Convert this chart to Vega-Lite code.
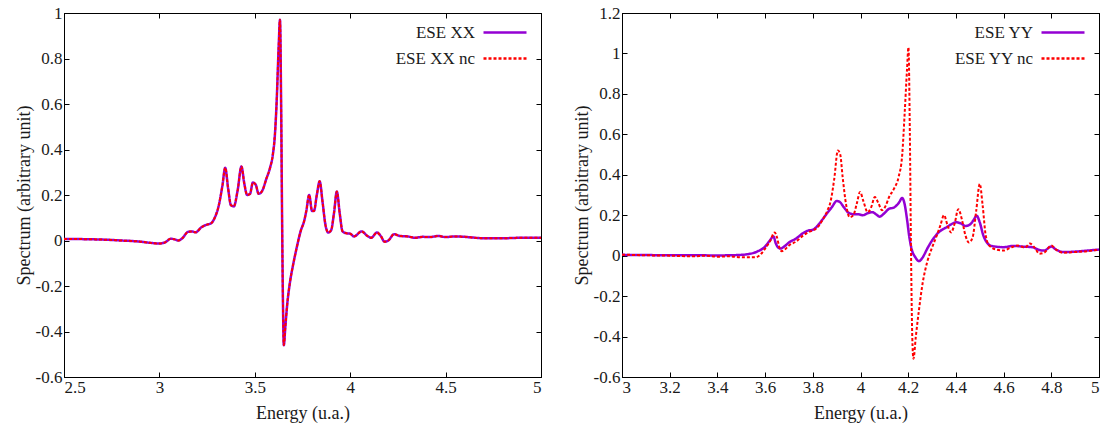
{
  "$schema": "https://vega.github.io/schema/vega-lite/v6.json",
  "padding": {"left": 14, "top": 3, "right": 0, "bottom": 0},
  "spacing": 81,
  "bounds": "flush",
  "resolve": {"scale": {"color": "independent", "strokeDash": "independent"}, "legend": {"color": "independent", "strokeDash": "independent"}},
  "datasets": {
    "xx": [
      {"E": 2.5, "ESE XX": 0.007, "ESE XX nc": 0.007},
      {"E": 2.6, "ESE XX": 0.006, "ESE XX nc": 0.006},
      {"E": 2.7, "ESE XX": 0.004, "ESE XX nc": 0.004},
      {"E": 2.8, "ESE XX": 0.0, "ESE XX nc": 0.0},
      {"E": 2.9, "ESE XX": -0.005, "ESE XX nc": -0.005},
      {"E": 2.95, "ESE XX": -0.01, "ESE XX nc": -0.01},
      {"E": 3.0, "ESE XX": -0.013, "ESE XX nc": -0.013},
      {"E": 3.03, "ESE XX": -0.008, "ESE XX nc": -0.008},
      {"E": 3.06, "ESE XX": 0.008, "ESE XX nc": 0.008},
      {"E": 3.08, "ESE XX": 0.005, "ESE XX nc": 0.005},
      {"E": 3.1, "ESE XX": 0.0, "ESE XX nc": 0.0},
      {"E": 3.12, "ESE XX": 0.01, "ESE XX nc": 0.01},
      {"E": 3.15, "ESE XX": 0.038, "ESE XX nc": 0.038},
      {"E": 3.17, "ESE XX": 0.04, "ESE XX nc": 0.04},
      {"E": 3.19, "ESE XX": 0.036, "ESE XX nc": 0.036},
      {"E": 3.22, "ESE XX": 0.058, "ESE XX nc": 0.058},
      {"E": 3.25, "ESE XX": 0.07, "ESE XX nc": 0.07},
      {"E": 3.27, "ESE XX": 0.075, "ESE XX nc": 0.075},
      {"E": 3.29, "ESE XX": 0.1, "ESE XX nc": 0.1},
      {"E": 3.31, "ESE XX": 0.15, "ESE XX nc": 0.15},
      {"E": 3.33, "ESE XX": 0.24, "ESE XX nc": 0.24},
      {"E": 3.345, "ESE XX": 0.32, "ESE XX nc": 0.32},
      {"E": 3.36, "ESE XX": 0.23, "ESE XX nc": 0.23},
      {"E": 3.375, "ESE XX": 0.155, "ESE XX nc": 0.155},
      {"E": 3.39, "ESE XX": 0.15, "ESE XX nc": 0.15},
      {"E": 3.41, "ESE XX": 0.22, "ESE XX nc": 0.22},
      {"E": 3.43, "ESE XX": 0.325, "ESE XX nc": 0.325},
      {"E": 3.445, "ESE XX": 0.25, "ESE XX nc": 0.25},
      {"E": 3.46, "ESE XX": 0.2, "ESE XX nc": 0.2},
      {"E": 3.475, "ESE XX": 0.205, "ESE XX nc": 0.205},
      {"E": 3.49, "ESE XX": 0.255, "ESE XX nc": 0.255},
      {"E": 3.505, "ESE XX": 0.245, "ESE XX nc": 0.245},
      {"E": 3.52, "ESE XX": 0.205, "ESE XX nc": 0.205},
      {"E": 3.54, "ESE XX": 0.22, "ESE XX nc": 0.22},
      {"E": 3.56, "ESE XX": 0.27, "ESE XX nc": 0.27},
      {"E": 3.58, "ESE XX": 0.32, "ESE XX nc": 0.32},
      {"E": 3.595, "ESE XX": 0.38, "ESE XX nc": 0.38},
      {"E": 3.605, "ESE XX": 0.46, "ESE XX nc": 0.46},
      {"E": 3.615, "ESE XX": 0.62, "ESE XX nc": 0.62},
      {"E": 3.625, "ESE XX": 0.85, "ESE XX nc": 0.85},
      {"E": 3.632, "ESE XX": 0.97, "ESE XX nc": 0.97},
      {"E": 3.638, "ESE XX": 0.6, "ESE XX nc": 0.6},
      {"E": 3.643, "ESE XX": 0.1, "ESE XX nc": 0.1},
      {"E": 3.648, "ESE XX": -0.3, "ESE XX nc": -0.3},
      {"E": 3.652, "ESE XX": -0.46, "ESE XX nc": -0.46},
      {"E": 3.66, "ESE XX": -0.38, "ESE XX nc": -0.38},
      {"E": 3.67, "ESE XX": -0.28, "ESE XX nc": -0.28},
      {"E": 3.685, "ESE XX": -0.18, "ESE XX nc": -0.18},
      {"E": 3.7, "ESE XX": -0.11, "ESE XX nc": -0.11},
      {"E": 3.72, "ESE XX": -0.03, "ESE XX nc": -0.03},
      {"E": 3.74, "ESE XX": 0.04, "ESE XX nc": 0.04},
      {"E": 3.76, "ESE XX": 0.09, "ESE XX nc": 0.09},
      {"E": 3.77, "ESE XX": 0.13, "ESE XX nc": 0.13},
      {"E": 3.785, "ESE XX": 0.2, "ESE XX nc": 0.2},
      {"E": 3.8, "ESE XX": 0.13, "ESE XX nc": 0.13},
      {"E": 3.81, "ESE XX": 0.13, "ESE XX nc": 0.13},
      {"E": 3.825, "ESE XX": 0.2, "ESE XX nc": 0.2},
      {"E": 3.84, "ESE XX": 0.26, "ESE XX nc": 0.26},
      {"E": 3.855, "ESE XX": 0.17, "ESE XX nc": 0.17},
      {"E": 3.87, "ESE XX": 0.07, "ESE XX nc": 0.07},
      {"E": 3.885, "ESE XX": 0.035, "ESE XX nc": 0.035},
      {"E": 3.9, "ESE XX": 0.045, "ESE XX nc": 0.045},
      {"E": 3.915, "ESE XX": 0.12, "ESE XX nc": 0.12},
      {"E": 3.93, "ESE XX": 0.215, "ESE XX nc": 0.215},
      {"E": 3.945, "ESE XX": 0.12, "ESE XX nc": 0.12},
      {"E": 3.96, "ESE XX": 0.04, "ESE XX nc": 0.04},
      {"E": 3.98, "ESE XX": 0.032, "ESE XX nc": 0.032},
      {"E": 4.0, "ESE XX": 0.03, "ESE XX nc": 0.03},
      {"E": 4.02, "ESE XX": 0.018, "ESE XX nc": 0.018},
      {"E": 4.06, "ESE XX": 0.04, "ESE XX nc": 0.04},
      {"E": 4.09, "ESE XX": 0.02, "ESE XX nc": 0.02},
      {"E": 4.11, "ESE XX": 0.012, "ESE XX nc": 0.012},
      {"E": 4.14, "ESE XX": 0.035, "ESE XX nc": 0.035},
      {"E": 4.16, "ESE XX": 0.02, "ESE XX nc": 0.02},
      {"E": 4.18, "ESE XX": -0.005, "ESE XX nc": -0.005},
      {"E": 4.2, "ESE XX": 0.0, "ESE XX nc": 0.0},
      {"E": 4.23, "ESE XX": 0.028, "ESE XX nc": 0.028},
      {"E": 4.26, "ESE XX": 0.02, "ESE XX nc": 0.02},
      {"E": 4.3, "ESE XX": 0.018, "ESE XX nc": 0.018},
      {"E": 4.34, "ESE XX": 0.012, "ESE XX nc": 0.012},
      {"E": 4.38, "ESE XX": 0.016, "ESE XX nc": 0.016},
      {"E": 4.42, "ESE XX": 0.015, "ESE XX nc": 0.015},
      {"E": 4.46, "ESE XX": 0.02, "ESE XX nc": 0.02},
      {"E": 4.5, "ESE XX": 0.015, "ESE XX nc": 0.015},
      {"E": 4.55, "ESE XX": 0.018, "ESE XX nc": 0.018},
      {"E": 4.6, "ESE XX": 0.016, "ESE XX nc": 0.016},
      {"E": 4.7, "ESE XX": 0.01, "ESE XX nc": 0.01},
      {"E": 4.8, "ESE XX": 0.01, "ESE XX nc": 0.01},
      {"E": 4.9, "ESE XX": 0.012, "ESE XX nc": 0.012},
      {"E": 5.0, "ESE XX": 0.012, "ESE XX nc": 0.012}
    ],
    "yy": [
      {"E": 3.0, "series": "ESE YY", "S": 0.004},
      {"E": 3.1, "series": "ESE YY", "S": 0.003},
      {"E": 3.2, "series": "ESE YY", "S": 0.002},
      {"E": 3.3, "series": "ESE YY", "S": 0.002},
      {"E": 3.4, "series": "ESE YY", "S": 0.001},
      {"E": 3.45, "series": "ESE YY", "S": 0.002},
      {"E": 3.5, "series": "ESE YY", "S": 0.004},
      {"E": 3.54, "series": "ESE YY", "S": 0.01},
      {"E": 3.57, "series": "ESE YY", "S": 0.022},
      {"E": 3.6, "series": "ESE YY", "S": 0.045},
      {"E": 3.62, "series": "ESE YY", "S": 0.075},
      {"E": 3.635, "series": "ESE YY", "S": 0.095},
      {"E": 3.645, "series": "ESE YY", "S": 0.06},
      {"E": 3.655, "series": "ESE YY", "S": 0.04},
      {"E": 3.665, "series": "ESE YY", "S": 0.035},
      {"E": 3.68, "series": "ESE YY", "S": 0.045},
      {"E": 3.7, "series": "ESE YY", "S": 0.065},
      {"E": 3.73, "series": "ESE YY", "S": 0.085},
      {"E": 3.76, "series": "ESE YY", "S": 0.112},
      {"E": 3.78, "series": "ESE YY", "S": 0.124},
      {"E": 3.8, "series": "ESE YY", "S": 0.128},
      {"E": 3.82, "series": "ESE YY", "S": 0.148},
      {"E": 3.84, "series": "ESE YY", "S": 0.178},
      {"E": 3.86, "series": "ESE YY", "S": 0.21},
      {"E": 3.88, "series": "ESE YY", "S": 0.24},
      {"E": 3.9, "series": "ESE YY", "S": 0.27},
      {"E": 3.91, "series": "ESE YY", "S": 0.268},
      {"E": 3.93, "series": "ESE YY", "S": 0.24},
      {"E": 3.95, "series": "ESE YY", "S": 0.212},
      {"E": 3.97, "series": "ESE YY", "S": 0.205},
      {"E": 3.99, "series": "ESE YY", "S": 0.205},
      {"E": 4.01, "series": "ESE YY", "S": 0.2},
      {"E": 4.03, "series": "ESE YY", "S": 0.21},
      {"E": 4.05, "series": "ESE YY", "S": 0.215},
      {"E": 4.065, "series": "ESE YY", "S": 0.205},
      {"E": 4.08, "series": "ESE YY", "S": 0.193},
      {"E": 4.1, "series": "ESE YY", "S": 0.21},
      {"E": 4.12, "series": "ESE YY", "S": 0.232},
      {"E": 4.14, "series": "ESE YY", "S": 0.238},
      {"E": 4.16, "series": "ESE YY", "S": 0.26},
      {"E": 4.175, "series": "ESE YY", "S": 0.285},
      {"E": 4.185, "series": "ESE YY", "S": 0.255},
      {"E": 4.195, "series": "ESE YY", "S": 0.18},
      {"E": 4.205, "series": "ESE YY", "S": 0.09},
      {"E": 4.215, "series": "ESE YY", "S": 0.03},
      {"E": 4.23, "series": "ESE YY", "S": -0.008},
      {"E": 4.245, "series": "ESE YY", "S": -0.027},
      {"E": 4.26, "series": "ESE YY", "S": -0.01},
      {"E": 4.28, "series": "ESE YY", "S": 0.035},
      {"E": 4.3, "series": "ESE YY", "S": 0.075},
      {"E": 4.33, "series": "ESE YY", "S": 0.118},
      {"E": 4.36, "series": "ESE YY", "S": 0.14},
      {"E": 4.38, "series": "ESE YY", "S": 0.155},
      {"E": 4.4, "series": "ESE YY", "S": 0.165},
      {"E": 4.42, "series": "ESE YY", "S": 0.16},
      {"E": 4.44, "series": "ESE YY", "S": 0.147},
      {"E": 4.46, "series": "ESE YY", "S": 0.155},
      {"E": 4.475, "series": "ESE YY", "S": 0.178},
      {"E": 4.487, "series": "ESE YY", "S": 0.198},
      {"E": 4.5, "series": "ESE YY", "S": 0.165},
      {"E": 4.515, "series": "ESE YY", "S": 0.1},
      {"E": 4.53, "series": "ESE YY", "S": 0.065},
      {"E": 4.55, "series": "ESE YY", "S": 0.048},
      {"E": 4.6, "series": "ESE YY", "S": 0.042},
      {"E": 4.64, "series": "ESE YY", "S": 0.048},
      {"E": 4.68, "series": "ESE YY", "S": 0.045},
      {"E": 4.72, "series": "ESE YY", "S": 0.042},
      {"E": 4.75, "series": "ESE YY", "S": 0.028},
      {"E": 4.77, "series": "ESE YY", "S": 0.025},
      {"E": 4.8, "series": "ESE YY", "S": 0.045},
      {"E": 4.82, "series": "ESE YY", "S": 0.03},
      {"E": 4.85, "series": "ESE YY", "S": 0.018},
      {"E": 4.9, "series": "ESE YY", "S": 0.02},
      {"E": 4.95, "series": "ESE YY", "S": 0.025},
      {"E": 5.0, "series": "ESE YY", "S": 0.03},
      {"E": 3.0, "series": "ESE YY nc", "S": 0.005},
      {"E": 3.1, "series": "ESE YY nc", "S": 0.002},
      {"E": 3.2, "series": "ESE YY nc", "S": 0.0},
      {"E": 3.3, "series": "ESE YY nc", "S": -0.003},
      {"E": 3.35, "series": "ESE YY nc", "S": 0.0},
      {"E": 3.4, "series": "ESE YY nc", "S": -0.005},
      {"E": 3.45, "series": "ESE YY nc", "S": -0.003},
      {"E": 3.5, "series": "ESE YY nc", "S": -0.008},
      {"E": 3.56, "series": "ESE YY nc", "S": -0.008},
      {"E": 3.58, "series": "ESE YY nc", "S": 0.005},
      {"E": 3.6, "series": "ESE YY nc", "S": 0.035},
      {"E": 3.62, "series": "ESE YY nc", "S": 0.07},
      {"E": 3.64, "series": "ESE YY nc", "S": 0.115},
      {"E": 3.65, "series": "ESE YY nc", "S": 0.09},
      {"E": 3.66, "series": "ESE YY nc", "S": 0.04},
      {"E": 3.67, "series": "ESE YY nc", "S": 0.022},
      {"E": 3.68, "series": "ESE YY nc", "S": 0.028},
      {"E": 3.7, "series": "ESE YY nc", "S": 0.05},
      {"E": 3.73, "series": "ESE YY nc", "S": 0.07},
      {"E": 3.76, "series": "ESE YY nc", "S": 0.1},
      {"E": 3.78, "series": "ESE YY nc", "S": 0.115},
      {"E": 3.8, "series": "ESE YY nc", "S": 0.125},
      {"E": 3.82, "series": "ESE YY nc", "S": 0.14},
      {"E": 3.84, "series": "ESE YY nc", "S": 0.175},
      {"E": 3.86, "series": "ESE YY nc", "S": 0.22},
      {"E": 3.875, "series": "ESE YY nc", "S": 0.27},
      {"E": 3.89, "series": "ESE YY nc", "S": 0.38},
      {"E": 3.905, "series": "ESE YY nc", "S": 0.52},
      {"E": 3.915, "series": "ESE YY nc", "S": 0.5},
      {"E": 3.925, "series": "ESE YY nc", "S": 0.39},
      {"E": 3.94, "series": "ESE YY nc", "S": 0.25},
      {"E": 3.955, "series": "ESE YY nc", "S": 0.19},
      {"E": 3.97, "series": "ESE YY nc", "S": 0.2},
      {"E": 3.985, "series": "ESE YY nc", "S": 0.26},
      {"E": 3.998, "series": "ESE YY nc", "S": 0.315},
      {"E": 4.012, "series": "ESE YY nc", "S": 0.27},
      {"E": 4.03, "series": "ESE YY nc", "S": 0.215},
      {"E": 4.045, "series": "ESE YY nc", "S": 0.24},
      {"E": 4.06, "series": "ESE YY nc", "S": 0.29},
      {"E": 4.075, "series": "ESE YY nc", "S": 0.26},
      {"E": 4.09, "series": "ESE YY nc", "S": 0.225},
      {"E": 4.105, "series": "ESE YY nc", "S": 0.245},
      {"E": 4.12, "series": "ESE YY nc", "S": 0.29},
      {"E": 4.14, "series": "ESE YY nc", "S": 0.33},
      {"E": 4.16, "series": "ESE YY nc", "S": 0.39},
      {"E": 4.175, "series": "ESE YY nc", "S": 0.5},
      {"E": 4.185, "series": "ESE YY nc", "S": 0.7},
      {"E": 4.195, "series": "ESE YY nc", "S": 0.92},
      {"E": 4.201, "series": "ESE YY nc", "S": 1.03},
      {"E": 4.207, "series": "ESE YY nc", "S": 0.6},
      {"E": 4.212, "series": "ESE YY nc", "S": 0.0},
      {"E": 4.217, "series": "ESE YY nc", "S": -0.4},
      {"E": 4.222, "series": "ESE YY nc", "S": -0.51},
      {"E": 4.232, "series": "ESE YY nc", "S": -0.4},
      {"E": 4.245, "series": "ESE YY nc", "S": -0.27},
      {"E": 4.26, "series": "ESE YY nc", "S": -0.14},
      {"E": 4.28, "series": "ESE YY nc", "S": -0.03},
      {"E": 4.3, "series": "ESE YY nc", "S": 0.04},
      {"E": 4.32, "series": "ESE YY nc", "S": 0.1},
      {"E": 4.335, "series": "ESE YY nc", "S": 0.15},
      {"E": 4.35, "series": "ESE YY nc", "S": 0.2},
      {"E": 4.365, "series": "ESE YY nc", "S": 0.15},
      {"E": 4.38, "series": "ESE YY nc", "S": 0.115},
      {"E": 4.395, "series": "ESE YY nc", "S": 0.16},
      {"E": 4.41, "series": "ESE YY nc", "S": 0.23},
      {"E": 4.425, "series": "ESE YY nc", "S": 0.18},
      {"E": 4.44, "series": "ESE YY nc", "S": 0.1},
      {"E": 4.455, "series": "ESE YY nc", "S": 0.065},
      {"E": 4.47, "series": "ESE YY nc", "S": 0.09},
      {"E": 4.485, "series": "ESE YY nc", "S": 0.22},
      {"E": 4.5, "series": "ESE YY nc", "S": 0.355},
      {"E": 4.512, "series": "ESE YY nc", "S": 0.25},
      {"E": 4.525, "series": "ESE YY nc", "S": 0.1},
      {"E": 4.54, "series": "ESE YY nc", "S": 0.05},
      {"E": 4.57, "series": "ESE YY nc", "S": 0.03},
      {"E": 4.6, "series": "ESE YY nc", "S": 0.025},
      {"E": 4.63, "series": "ESE YY nc", "S": 0.04},
      {"E": 4.66, "series": "ESE YY nc", "S": 0.05},
      {"E": 4.69, "series": "ESE YY nc", "S": 0.04},
      {"E": 4.71, "series": "ESE YY nc", "S": 0.06},
      {"E": 4.73, "series": "ESE YY nc", "S": 0.04},
      {"E": 4.75, "series": "ESE YY nc", "S": 0.01},
      {"E": 4.77, "series": "ESE YY nc", "S": 0.015},
      {"E": 4.8, "series": "ESE YY nc", "S": 0.05},
      {"E": 4.82, "series": "ESE YY nc", "S": 0.03},
      {"E": 4.85, "series": "ESE YY nc", "S": 0.015},
      {"E": 4.9, "series": "ESE YY nc", "S": 0.018},
      {"E": 4.95, "series": "ESE YY nc", "S": 0.022},
      {"E": 5.0, "series": "ESE YY nc", "S": 0.03}
    ]
  },
  "hconcat": [
    {
      "width": 477,
      "height": 364,
      "data": {"name": "xx"},
      "transform": [{"fold": ["ESE XX", "ESE XX nc"], "as": ["series", "S"]}],
      "layer": [
        {
          "transform": [{"filter": "datum.series == 'ESE XX'"}],
          "mark": {"type": "line", "interpolate": "monotone", "strokeWidth": 2.5},
          "encoding": {
            "x": {"field": "E", "type": "quantitative", "scale": {"domain": [2.5, 5], "nice": false, "zero": false},
              "axis": {"orient": "bottom", "values": [2.5, 3, 3.5, 4, 4.5, 5], "format": "~g", "title": "Energy (u.a.)"}},
            "y": {"field": "S", "type": "quantitative", "scale": {"domain": [-0.6, 1], "nice": false},
              "axis": {"orient": "left", "values": [-0.6, -0.4, -0.2, 0, 0.2, 0.4, 0.6, 0.8, 1], "format": "~g", "title": "Spectrum (arbitrary unit)", "labelExpr": "replace(datum.label, '\u2212', '-')"}},
            "color": {"field": "series", "type": "nominal", "scale": {"domain": ["ESE XX", "ESE XX nc"], "range": ["#9400d3", "#ff0000"]}, "legend": {"title": null, "symbolType": "M-2.15,0H2.15"}},
            "strokeDash": {"field": "series", "type": "nominal", "scale": {"domain": ["ESE XX", "ESE XX nc"], "range": [[1, 0], [3, 2]]}, "legend": {"title": null, "symbolType": "M-2.15,0H2.15"}}
          }
        },
        {
          "transform": [{"filter": "datum.series == 'ESE XX nc'"}],
          "mark": {"type": "line", "interpolate": "monotone", "strokeWidth": 2},
          "encoding": {
            "x": {"field": "E", "type": "quantitative",
              "axis": {"orient": "top", "values": [2.5, 3, 3.5, 4, 4.5, 5], "title": null, "labels": false}},
            "y": {"field": "S", "type": "quantitative",
              "axis": {"orient": "right", "values": [-0.6, -0.4, -0.2, 0, 0.2, 0.4, 0.6, 0.8, 1], "title": null, "labels": false}},
            "color": {"field": "series", "type": "nominal", "legend": {"title": null, "symbolType": "M-2.15,0H2.15"}},
            "strokeDash": {"field": "series", "type": "nominal", "legend": {"title": null, "symbolType": "M-2.15,0H2.15"}}
          }
        }
      ]
    },
    {
      "width": 477,
      "height": 364,
      "data": {"name": "yy"},
      "layer": [
        {
          "transform": [{"filter": "datum.series == 'ESE YY'"}],
          "mark": {"type": "line", "interpolate": "monotone", "strokeWidth": 2.5},
          "encoding": {
            "x": {"field": "E", "type": "quantitative", "scale": {"domain": [3, 5], "nice": false, "zero": false},
              "axis": {"orient": "bottom", "values": [3, 3.2, 3.4, 3.6, 3.8, 4, 4.2, 4.4, 4.6, 4.8, 5], "format": "~g", "title": "Energy (u.a.)"}},
            "y": {"field": "S", "type": "quantitative", "scale": {"domain": [-0.6, 1.2], "nice": false},
              "axis": {"orient": "left", "values": [-0.6, -0.4, -0.2, 0, 0.2, 0.4, 0.6, 0.8, 1, 1.2], "format": "~g", "title": "Spectrum (arbitrary unit)", "labelExpr": "replace(datum.label, '\u2212', '-')"}},
            "color": {"field": "series", "type": "nominal", "scale": {"domain": ["ESE YY", "ESE YY nc"], "range": ["#9400d3", "#ff0000"]}, "legend": {"title": null, "symbolType": "M-2.15,0H2.15"}},
            "strokeDash": {"field": "series", "type": "nominal", "scale": {"domain": ["ESE YY", "ESE YY nc"], "range": [[1, 0], [3, 2]]}, "legend": {"title": null, "symbolType": "M-2.15,0H2.15"}}
          }
        },
        {
          "transform": [{"filter": "datum.series == 'ESE YY nc'"}],
          "mark": {"type": "line", "interpolate": "monotone", "strokeWidth": 2},
          "encoding": {
            "x": {"field": "E", "type": "quantitative",
              "axis": {"orient": "top", "values": [3, 3.2, 3.4, 3.6, 3.8, 4, 4.2, 4.4, 4.6, 4.8, 5], "title": null, "labels": false}},
            "y": {"field": "S", "type": "quantitative",
              "axis": {"orient": "right", "values": [-0.6, -0.4, -0.2, 0, 0.2, 0.4, 0.6, 0.8, 1, 1.2], "title": null, "labels": false}},
            "color": {"field": "series", "type": "nominal", "legend": {"title": null, "symbolType": "M-2.15,0H2.15"}},
            "strokeDash": {"field": "series", "type": "nominal", "legend": {"title": null, "symbolType": "M-2.15,0H2.15"}}
          }
        }
      ]
    }
  ],
  "config": {
    "font": "Liberation Serif",
    "view": {"stroke": "#000", "strokeWidth": 1},
    "style": {
      "guide-label": {"font": "Liberation Serif"},
      "guide-title": {"font": "Liberation Serif"}
    },
    "axis": {
      "grid": false,
      "domainColor": "#000",
      "tickColor": "#000",
      "tickSize": -5,
      "labelFont": "Liberation Serif",
      "labelFontSize": 17,
      "labelColor": "#1a1a1a",
      "labelPadding": 7,
      "titleFont": "Liberation Serif",
      "titleFontSize": 18,
      "titleFontWeight": "normal",
      "titleColor": "#1a1a1a",
      "titlePadding": 2
    },
    "axisX": {"titlePadding": 9},
    "legend": {
      "orient": "none",
      "legendX": 429.5,
      "legendY": 8,
      "symbolType": "M-2.15,0H2.15",
      "symbolSize": 400,
      "symbolStrokeWidth": 2.5,
      "labelAlign": "right",
      "labelOffset": -41.5,
      "labelFont": "Liberation Serif",
      "labelFontSize": 17,
      "labelColor": "#1a1a1a",
      "rowPadding": 6,
      "labelLimit": 300
    }
  }
}
